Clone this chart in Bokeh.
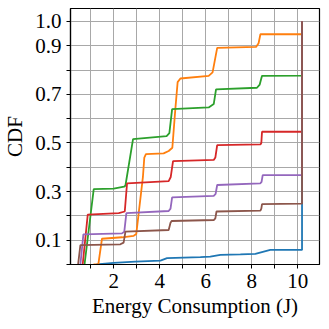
from bokeh.plotting import figure
from bokeh.models import FixedTicker, Range1d
from bokeh.embed import file_html
from bokeh.resources import INLINE

# Series data (energy in J, CDF)
blue_x = [1.25, 2.0, 2.94, 4.03, 4.32, 5.77, 6.2, 6.64, 7.51, 8.16, 8.81, 10.19, 10.19]
blue_y = [0.0, 0.007, 0.012, 0.016, 0.026, 0.03, 0.032, 0.04, 0.042, 0.044, 0.06, 0.06, 1.0]

orange_x = [1.12, 1.33, 1.49, 2.36, 2.87, 2.98, 3.27, 3.33, 3.4, 4.17, 4.39, 4.55, 4.68, 4.78, 4.9,
            6.13, 6.3, 6.5, 8.19, 8.3, 8.38, 10.19, 10.19]
orange_y = [0.0, 0.0, 0.106, 0.112, 0.118, 0.125, 0.36, 0.44, 0.454, 0.457, 0.467, 0.48, 0.64, 0.75, 0.765,
            0.776, 0.79, 0.891, 0.895, 0.91, 0.947, 0.947, 1.0]

green_x = [0.73, 1.13, 2.0, 2.45, 2.51, 2.84, 4.3, 4.42, 4.54, 6.13, 6.35, 6.45, 8.23, 8.35, 8.45, 10.19, 10.19]
green_y = [0.0, 0.31, 0.312, 0.32, 0.325, 0.516, 0.528, 0.54, 0.639, 0.646, 0.66, 0.72, 0.727, 0.74, 0.776, 0.777, 1.0]

red_x = [0.65, 0.87, 2.22, 2.48, 2.58, 4.39, 4.48, 4.58, 6.35, 6.42, 6.5, 8.38, 8.42, 8.45, 10.19, 10.19]
red_y = [0.0, 0.205, 0.211, 0.218, 0.334, 0.343, 0.36, 0.425, 0.43, 0.44, 0.491, 0.494, 0.5, 0.546, 0.546, 1.0]

purple_x = [0.55, 0.68, 2.36, 2.46, 2.55, 4.39, 4.47, 4.54, 6.35, 6.43, 6.5, 8.38, 8.43, 8.48, 10.19, 10.19]
purple_y = [0.0, 0.124, 0.128, 0.135, 0.211, 0.22, 0.23, 0.276, 0.282, 0.29, 0.327, 0.334, 0.34, 0.368, 0.368, 1.0]

brown_x = [0.45, 0.55, 2.29, 2.43, 2.51, 4.39, 4.47, 4.52, 6.35, 6.42, 6.47, 8.38, 8.42, 8.45, 10.19, 10.19]
brown_y = [0.0, 0.08, 0.083, 0.09, 0.135, 0.142, 0.172, 0.179, 0.183, 0.19, 0.218, 0.222, 0.23, 0.248, 0.25, 1.0]

series = [
    (blue_x, blue_y, "#1f77b4"),
    (orange_x, orange_y, "#ff7f0e"),
    (green_x, green_y, "#2ca02c"),
    (red_x, red_y, "#d62728"),
    (purple_x, purple_y, "#9467bd"),
    (brown_x, brown_y, "#8c564b"),
]

x_ticks = [1, 2, 3, 4, 5, 6, 7, 8, 9, 10, 11]
x_labels = {1: "", 2: "2", 3: "", 4: "4", 5: "", 6: "6", 7: "", 8: "8", 9: "", 10: "10", 11: ""}
y_ticks = [0.0, 0.1, 0.2, 0.3, 0.4, 0.5, 0.6, 0.7, 0.8, 0.9, 1.0]
y_labels = {0.0: "", 0.1: "0.1", 0.2: "", 0.3: "0.3", 0.4: "", 0.5: "0.5", 0.6: "",
            0.7: "0.7", 0.8: "", 0.9: "0.9", 1.0: "1.0"}

FONT = "Liberation Serif"

p = figure(width=313, height=313, frame_width=249, frame_height=256,
           output_backend="svg", toolbar_location=None,
           x_range=Range1d(0.12, 10.95), y_range=Range1d(0.0, 1.053),
           min_border_left=62, min_border_top=8, min_border_right=2, min_border_bottom=40)
p.width = None
p.height = None

for xs, ys, c in series:
    p.line(xs, ys, line_color=c, line_width=1.8)

p.outline_line_color = "black"
p.outline_line_width = 1.2
p.outline_line_alpha = 1.0

p.xaxis.ticker = FixedTicker(ticks=x_ticks)
p.xaxis.major_label_overrides = x_labels
p.yaxis.ticker = FixedTicker(ticks=y_ticks)
p.yaxis.major_label_overrides = y_labels

p.xaxis.axis_label = "Energy Consumption (J)"
p.yaxis.axis_label = "CDF"

for ax in (p.xaxis[0], p.yaxis[0]):
    ax.axis_line_color = "black"
    ax.axis_line_width = 1.2
    ax.major_tick_out = 4
    ax.major_tick_in = 0
    ax.minor_tick_out = 0
    ax.minor_tick_in = 0
    ax.major_tick_line_color = "black"
    ax.major_label_text_font = FONT
    ax.major_label_text_font_size = "21px"
    ax.major_label_text_color = "black"
    ax.axis_label_text_font = FONT
    ax.axis_label_text_font_size = "21px"
    ax.axis_label_text_font_style = "normal"
    ax.axis_label_text_color = "black"

p.xaxis.major_label_standoff = 5
p.yaxis.major_label_standoff = 5
p.xaxis.axis_label_standoff = 3
p.yaxis.axis_label_standoff = 5

p.xgrid.ticker = FixedTicker(ticks=x_ticks)
p.ygrid.ticker = FixedTicker(ticks=y_ticks)
p.grid.grid_line_color = "#a8a8a8"
p.grid.grid_line_width = 1

p.background_fill_color = "white"
p.border_fill_color = "white"

open("out.html", "w").write(file_html(p, INLINE))
